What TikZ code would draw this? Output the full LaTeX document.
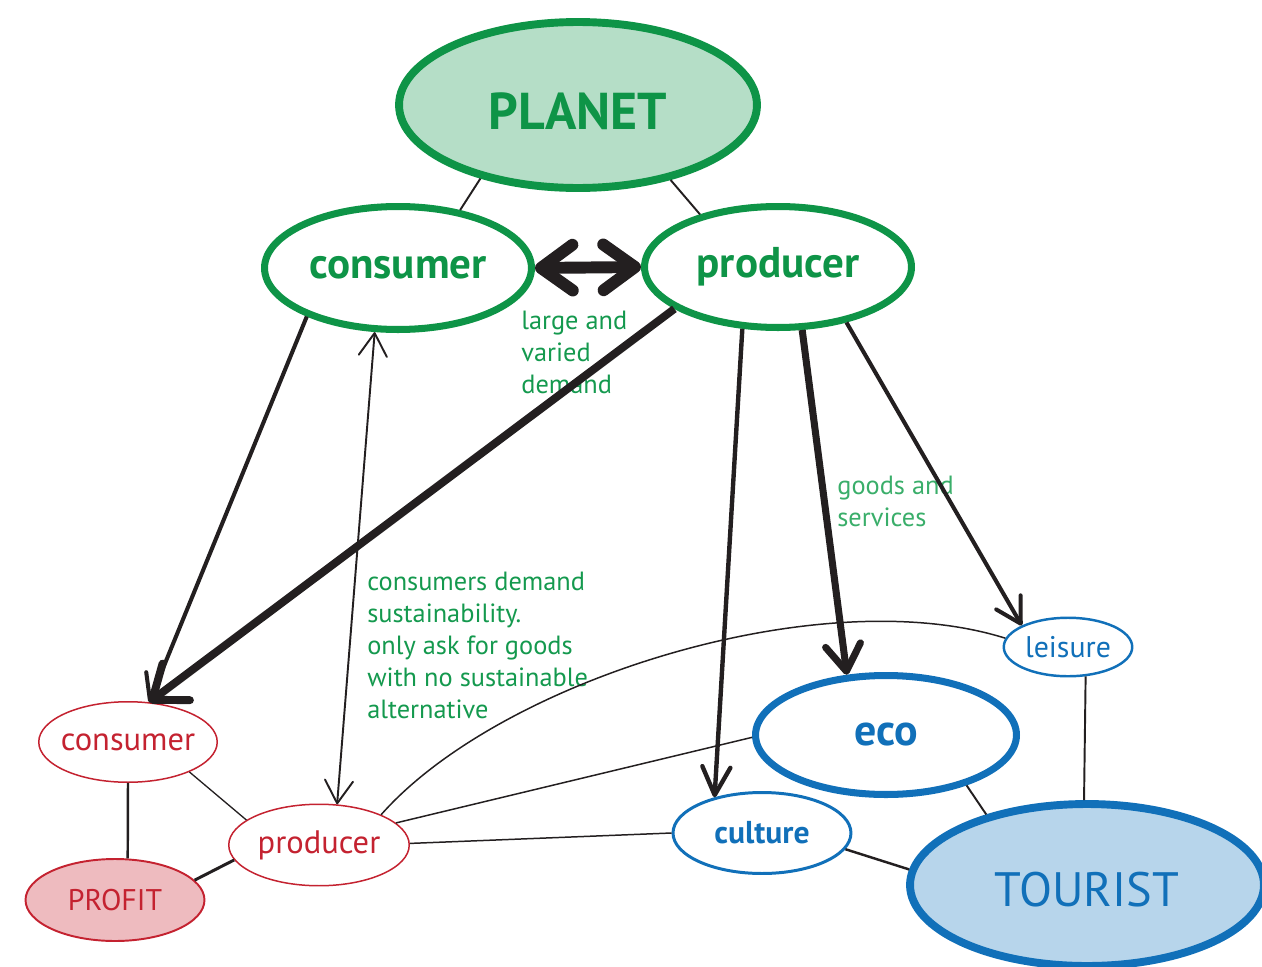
\documentclass[tikz,border=0pt]{standalone}
\usepackage{fontspec}
\setmainfont{PT Sans}
\usetikzlibrary{arrows.meta,shapes.geometric}
\definecolor{gdark}{HTML}{0E9447}
\definecolor{glight}{HTML}{B5DEC7}
\definecolor{gtext}{HTML}{14994E}
\definecolor{gtext2}{HTML}{3AAE6A}
\definecolor{bdark}{HTML}{1170B9}
\definecolor{blight}{HTML}{B7D5EB}
\definecolor{rdark}{HTML}{C42230}
\definecolor{rlight}{HTML}{EEBBBF}
\definecolor{ink}{HTML}{231F20}
\begin{document}
\begin{tikzpicture}[x=0.02cm,y=-0.02cm,
  oval/.style={ellipse,inner sep=0pt,align=center},
  gbig/.style={oval,draw=gdark,line width=4pt,fill=white,text=gdark,font=\bfseries\fontsize{24.5}{29}\selectfont},
  rsmall/.style={oval,inner xsep=-12pt,draw=rdark,line width=0.85pt,fill=white,text=rdark,font=\fontsize{18.5}{22}\selectfont},
  note/.style={inner sep=0pt,anchor=north west,align=left,text=gtext,font=\fontsize{15}{18.2}\selectfont},
  ln/.style={draw=ink,line width=#1},
  ln/.default=1.1pt,
  arr/.style={draw=ink,line width=#1},
]
\useasboundingbox (0,0) rectangle (1262,967);
\clip (0,0) rectangle (1262,967);

% nodes
\node[oval,draw=gdark,fill=glight,line width=4.5pt,minimum width=7.16cm,minimum height=3.32cm,text=gdark,font=\bfseries\fontsize{29.5}{36}\selectfont,text height=28pt,text depth=0pt] (planet) at (578,105) {PLANET};
\node[gbig,minimum width=5.34cm,minimum height=2.46cm] (gcons) at (398,268) {consumer};
\node[gbig,minimum width=5.34cm,minimum height=2.42cm] (gprod) at (778,267) {producer};

\node[rsmall,minimum width=3.57cm,minimum height=1.61cm] (rcons) at (128,742) {consumer};
\node[rsmall,minimum width=3.61cm,minimum height=1.63cm] (rprod) at (319,845) {producer};
\node[oval,draw=rdark,fill=rlight,line width=1.1pt,minimum width=3.58cm,minimum height=1.64cm,text=rdark,font=\fontsize{17}{20}\selectfont] (profit) at (115,900) {PROFIT};

\node[oval,inner xsep=-6pt,draw=bdark,fill=white,line width=1.4pt,minimum width=2.57cm,minimum height=1.17cm,text=bdark,font=\fontsize{17}{20}\selectfont] (leis) at (1068,647) {leisure};
\node[oval,draw=bdark,fill=white,line width=4pt,minimum width=5.22cm,minimum height=2.38cm,text=bdark,font=\bfseries\fontsize{25}{30}\selectfont] (eco) at (886,735) {eco};
\node[oval,draw=bdark,fill=white,line width=1.7pt,minimum width=3.56cm,minimum height=1.62cm,text=bdark,font=\bfseries\fontsize{18}{21}\selectfont] (cult) at (762,833) {culture};
\node[oval,draw=bdark,fill=blight,line width=4.5pt,minimum width=7.08cm,minimum height=3.24cm,text=bdark,font=\fontsize{27.5}{32}\selectfont,text height=24.6pt,text depth=0pt] (tour) at (1087,885) {TOURIST};

% notes
\node[note] (n1) at (521,311) {large and\\varied\\demand};
\node[note] (n2) at (367,572) {consumers demand\\sustainability.\\only ask for goods\\with no sustainable\\alternative};
\node[note,text=gtext2] (n3) at (837,476) {goods and\\services};

% plain connectors
\draw[ln=1.1pt] (planet.217) -- (gcons.43);
\draw[ln=1.1pt] (planet.321) -- (gprod.146);
\draw[ln=1.4pt] (rcons.270) -- (profit.73);
\draw[ln=0.75pt] (rcons.334) -- (rprod.161);
\draw[ln=1.7pt] (profit.14) -- (rprod.190);
\draw[ln=0.85pt] (rprod.26) .. controls (500,680) and (820,580) .. (leis.172);
\draw[ln=0.85pt] (rprod.16) -- (eco.181);
\draw[ln=0.85pt] (rprod.1) -- (cult.180);
\draw[ln=1.4pt] (cult.349) -- (tour.175);
\draw[ln=1.1pt] (eco.328) -- (tour.145);
\draw[ln=1.1pt] (leis.301) -- (tour.92);

% arrows
\draw[arr=6.8pt,{Straight Barb[length=18pt,width=26pt,round]}-{Straight Barb[length=18pt,width=26pt,round]}] (gcons.0) -- (gprod.180);
\draw[arr=4.5pt,-{Straight Barb[length=17pt,width=26pt,round]}] (gprod.202) -- (rcons.62);
\draw[arr=2.3pt,-{Straight Barb[length=14pt,width=16pt,round]}] (gcons.208) -- (rcons.62);
\draw[arr=1.1pt,{Straight Barb[length=13pt,width=16pt,round]}-{Straight Barb[length=13pt,width=16pt,round]}] (gcons.250) -- (rprod.66);
\draw[arr=2.5pt,-{Straight Barb[length=16pt,width=16pt,round]}] (gprod.240) -- (cult.143);
\draw[arr=4pt,-{Straight Barb[length=15pt,width=20pt,round]}] (gprod.291) -- (eco.123);
\draw[arr=2.3pt,-{Straight Barb[length=14pt,width=16pt,round]}] (gprod.321) -- (leis.155);
\end{tikzpicture}
\end{document}
